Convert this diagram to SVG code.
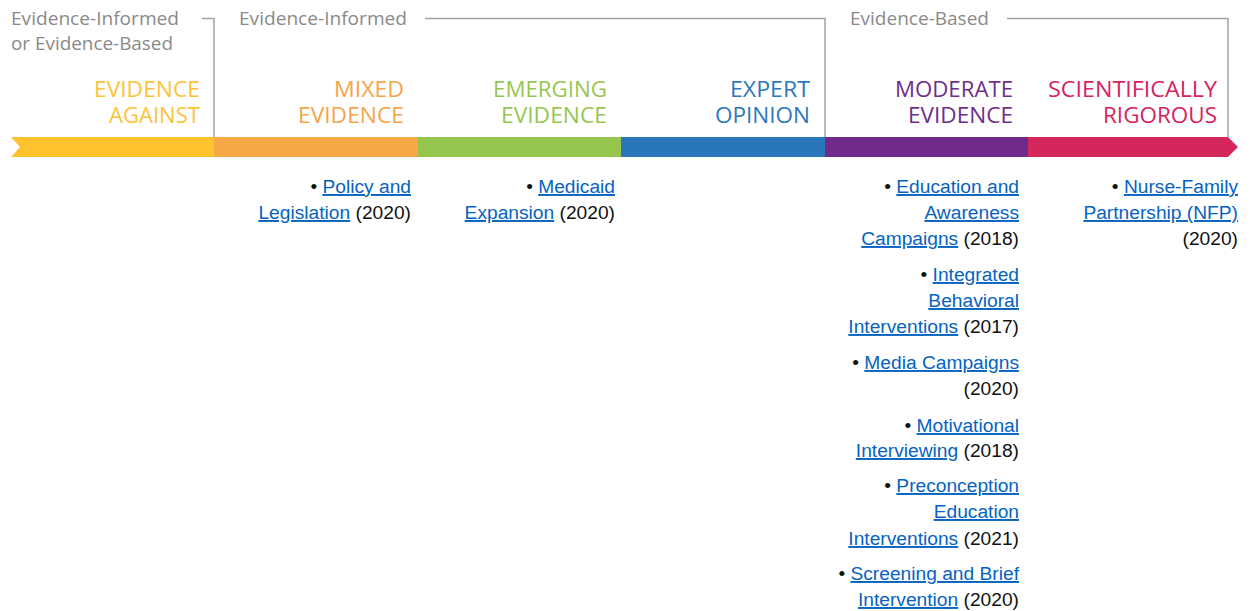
<svg xmlns="http://www.w3.org/2000/svg" width="1250" height="611" viewBox="0 0 1250 611">
  <style>
    .hdr { font-family: "Open Sans", "Liberation Sans", sans-serif; font-size: 19px; fill: #8a8a8a; }
    .lvl { font-family: "Open Sans", "Liberation Sans", sans-serif; font-size: 21px; text-anchor: end; }
    .bracket { fill: none; stroke: #a3a3a3; stroke-width: 1.5; }
    .item { font-family: "Liberation Sans", Arial, sans-serif; font-size: 19.2px; fill: #111111; text-anchor: end; }
    .lk { fill: #0563C1; text-decoration: underline; }
  </style>

  <rect width="1250" height="611" fill="#ffffff"/>

  <!-- category headers with their brackets -->
  <g id="group-informed-or-based">
    <text class="hdr" x="11" y="25" textLength="168" lengthAdjust="spacingAndGlyphs">Evidence-Informed</text>
    <text class="hdr" x="11" y="50" textLength="162" lengthAdjust="spacingAndGlyphs">or Evidence-Based</text>
  </g>
  <g id="group-informed">
    <text class="hdr" x="239" y="25" textLength="168" lengthAdjust="spacingAndGlyphs">Evidence-Informed</text>
  </g>
  <g id="group-based">
    <text class="hdr" x="850" y="25" textLength="139" lengthAdjust="spacingAndGlyphs">Evidence-Based</text>
  </g>

  <g id="connectors">
    <polyline class="bracket" points="202,18.5 214,18.5 214,137"/>
    <polyline class="bracket" points="425,18.5 825,18.5 825,137"/>
    <polyline class="bracket" points="1007,18.5 1228,18.5 1228,137"/>
  </g>

  <!-- evidence scale bar -->
  <g id="scale-bar">
    <polygon points="11,137 214.5,137 214.5,157 11,157 20,147" fill="#FEC22E"/>
    <rect x="214" y="137" width="204.5" height="20" fill="#F6A846"/>
    <rect x="418" y="137" width="203.5" height="20" fill="#95C54C"/>
    <rect x="621" y="137" width="204.5" height="20" fill="#2A76BA"/>
    <rect x="825" y="137" width="203.5" height="20" fill="#6F2A8B"/>
    <polygon points="1028,137 1228,137 1238,147 1228,157 1028,157" fill="#D4285D"/>
  </g>

  <!-- level labels -->
  <g id="level-evidence-against" fill="#FDC338">
    <text class="lvl" x="200" y="97" textLength="106" lengthAdjust="spacingAndGlyphs">EVIDENCE</text>
    <text class="lvl" x="200" y="123" textLength="91" lengthAdjust="spacingAndGlyphs">AGAINST</text>
  </g>
  <g id="level-mixed" fill="#F5A54A">
    <text class="lvl" x="404" y="97" textLength="70" lengthAdjust="spacingAndGlyphs">MIXED</text>
    <text class="lvl" x="404" y="123" textLength="106" lengthAdjust="spacingAndGlyphs">EVIDENCE</text>
  </g>
  <g id="level-emerging" fill="#97C650">
    <text class="lvl" x="607" y="97" textLength="114" lengthAdjust="spacingAndGlyphs">EMERGING</text>
    <text class="lvl" x="607" y="123" textLength="106" lengthAdjust="spacingAndGlyphs">EVIDENCE</text>
  </g>
  <g id="level-expert" fill="#2D78BE">
    <text class="lvl" x="810" y="97" textLength="80" lengthAdjust="spacingAndGlyphs">EXPERT</text>
    <text class="lvl" x="810" y="123" textLength="95" lengthAdjust="spacingAndGlyphs">OPINION</text>
  </g>
  <g id="level-moderate" fill="#6E2E8C">
    <text class="lvl" x="1013" y="97" textLength="118" lengthAdjust="spacingAndGlyphs">MODERATE</text>
    <text class="lvl" x="1013" y="123" textLength="105" lengthAdjust="spacingAndGlyphs">EVIDENCE</text>
  </g>
  <g id="level-rigorous" fill="#D7235E">
    <text class="lvl" x="1217" y="97" textLength="169" lengthAdjust="spacingAndGlyphs">SCIENTIFICALLY</text>
    <text class="lvl" x="1217" y="123" textLength="114" lengthAdjust="spacingAndGlyphs">RIGOROUS</text>
  </g>

  <!-- strategies under each level -->
  <g id="items-mixed" class="item">
    <text x="411" y="193">• <tspan class="lk">Policy and</tspan></text>
    <text x="411" y="219"><tspan class="lk">Legislation</tspan> (2020)</text>
  </g>
  <g id="items-emerging" class="item">
    <text x="615" y="193">• <tspan class="lk">Medicaid</tspan></text>
    <text x="615" y="219"><tspan class="lk">Expansion</tspan> (2020)</text>
  </g>
  <g id="items-moderate" class="item">
    <text x="1019" y="193">• <tspan class="lk">Education and</tspan></text>
    <text x="1019" y="219"><tspan class="lk">Awareness</tspan></text>
    <text x="1019" y="245"><tspan class="lk">Campaigns</tspan> (2018)</text>

    <text x="1019" y="281">• <tspan class="lk">Integrated</tspan></text>
    <text x="1019" y="307"><tspan class="lk">Behavioral</tspan></text>
    <text x="1019" y="333"><tspan class="lk">Interventions</tspan> (2017)</text>

    <text x="1019" y="369">• <tspan class="lk">Media Campaigns</tspan></text>
    <text x="1019" y="395">(2020)</text>

    <text x="1019" y="432">• <tspan class="lk">Motivational</tspan></text>
    <text x="1019" y="457"><tspan class="lk">Interviewing</tspan> (2018)</text>

    <text x="1019" y="492">• <tspan class="lk">Preconception</tspan></text>
    <text x="1019" y="518"><tspan class="lk">Education</tspan></text>
    <text x="1019" y="545"><tspan class="lk">Interventions</tspan> (2021)</text>

    <text x="1019" y="580">• <tspan class="lk">Screening and Brief</tspan></text>
    <text x="1019" y="606"><tspan class="lk">Intervention</tspan> (2020)</text>
  </g>
  <g id="items-rigorous" class="item">
    <text x="1238" y="193">• <tspan class="lk">Nurse-Family</tspan></text>
    <text x="1238" y="219"><tspan class="lk">Partnership (NFP)</tspan></text>
    <text x="1238" y="245">(2020)</text>
  </g>
</svg>
